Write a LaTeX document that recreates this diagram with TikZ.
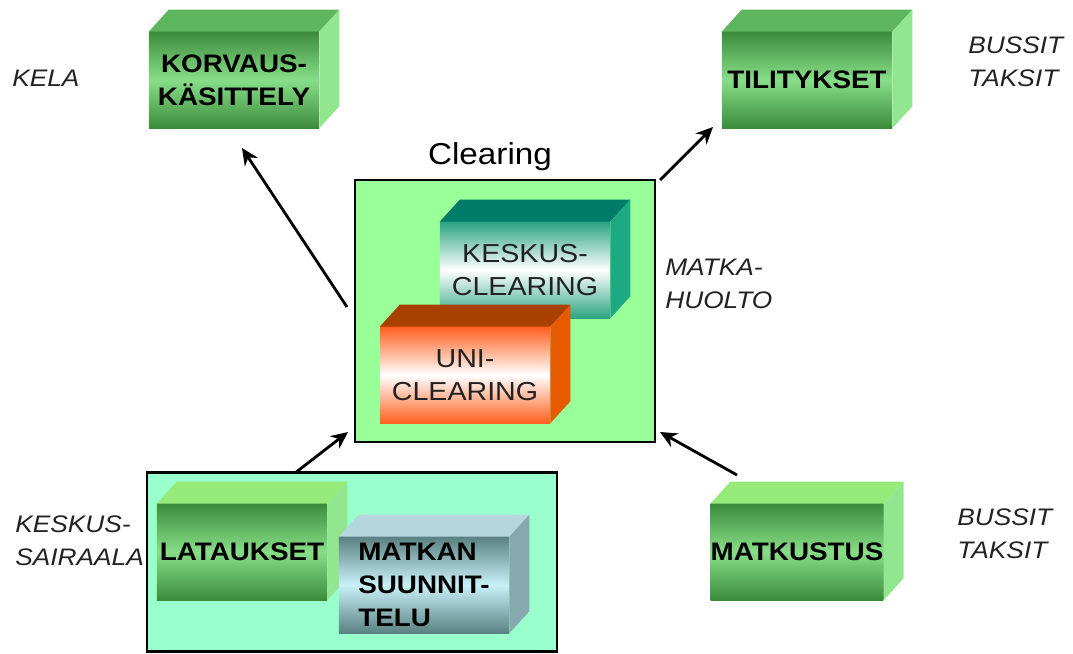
\documentclass[tikz,border=0pt]{standalone}
\usepackage{fontspec}
\setmainfont{Liberation Sans}[FakeStretch=1.1]
\usetikzlibrary{arrows.meta}

\definecolor{clearbg}{HTML}{99FF99}
\definecolor{lowbg}{HTML}{99FFCC}
\definecolor{gdark}{HTML}{3C8C3C}
\definecolor{glight}{HTML}{88DE88}
\definecolor{gtop}{HTML}{5DB65D}
\definecolor{gtoplow}{HTML}{96EA7A}
\definecolor{gside}{HTML}{92E690}
\definecolor{tdark}{HTML}{2CA482}
\definecolor{ttop}{HTML}{007C68}
\definecolor{tside}{HTML}{1CAA82}
\definecolor{odark}{HTML}{FF6020}
\definecolor{otop}{HTML}{A84000}
\definecolor{oside}{HTML}{E65A00}
\definecolor{sdark}{HTML}{5A8282}
\definecolor{slight}{HTML}{C8F0F8}
\definecolor{stop}{HTML}{B6D6DE}
\definecolor{sside}{HTML}{86A8AE}
\definecolor{labelgray}{HTML}{222222}

\tikzset{
    cube/.style={minimum width=4.25cm, minimum height=2.4cm, inner sep=0pt, align=center,
        font=\fontsize{18}{23.6}\selectfont\bfseries},
    greencube/.style={cube, top color=gdark, bottom color=gdark, middle color=glight},
    tealcube/.style={cube, top color=tdark, bottom color=tdark, middle color=white,
        text=labelgray, font=\fontsize{18.5}{24}\selectfont},
    orangecube/.style={cube, top color=odark, bottom color=odark, middle color=white,
        text=labelgray, font=\fontsize{18.5}{23.4}\selectfont},
    slatecube/.style={cube, top color=sdark, bottom color=sdark, middle color=slight, align=left},
    side label/.style={anchor=west, inner sep=0pt, align=left, text=labelgray,
        font=\fontsize{17}{23.4}\selectfont\itshape},
    container/.style={draw=black, line width=2pt, inner sep=0pt},
    flow/.style={-{Stealth[length=12pt,width=11pt]}, line width=2pt},
}

% top face and right face of a box drawn behind a front node
\newcommand{\cubeback}[3]{%
    \fill[#2] (#1.north west) -- ++(20,-22) -- ([shift={(20,-22)}]#1.north east) -- (#1.north east) -- cycle;
    \fill[#3] (#1.north east) -- ++(20,-22) -- ([shift={(20,-22)}]#1.south east) -- (#1.south east) -- cycle;
}

\begin{document}
\begin{tikzpicture}[x=0.025cm, y=-0.025cm]
\useasboundingbox (0,0) rectangle (1073,653);

        % top row
        \node[greencube] (korvaus) at (234,80) {KORVAUS-\\KÄSITTELY};
        \cubeback{korvaus}{gtop}{gside}
        \node[greencube] (tilitykset) at (807,80) {TILITYKSET};
        \cubeback{tilitykset}{gtop}{gside}

        \node[side label] (kela) at (12,78) {KELA};
        \node[side label] (bussit1) at (968,62) {BUSSIT\\TAKSIT};


        % clearing
        \node[container, fill=clearbg, minimum width=7.5cm, minimum height=6.55cm] (clearing) at (505,311) {};
        \node[font=\fontsize{21.5}{26}\selectfont, inner sep=0pt] (clearlabel) at (490,157) {Clearing};

        \node[tealcube] (keskusclr) at (525,270) {KESKUS-\\CLEARING};
        \cubeback{keskusclr}{ttop}{tside}
        \node[orangecube] (uniclr) at (465,375) {UNI-\\CLEARING};
        \cubeback{uniclr}{otop}{oside}

        \node[side label] (matkahuolto) at (665,284) {MATKA-\\HUOLTO};


        % bottom row
        \node[container, fill=lowbg, minimum width=10.25cm, minimum height=4.475cm] (lower) at (352,562) {};

        \node[greencube] (lataukset) at (242,552) {LATAUKSET};
        \cubeback{lataukset}{gtoplow}{gside}
        \node[slatecube] (suunnittelu) at (424,585) {MATKAN\\SUUNNIT-\\TELU};
        \cubeback{suunnittelu}{stop}{sside}

        \node[greencube] (matkustus) at (797,552) {MATKUSTUS};
        \cubeback{matkustus}{gtoplow}{gside}

        \node[side label] (sairaala) at (15,541) {KESKUS-\\SAIRAALA};
        \node[side label] (bussit2) at (957,534) {BUSSIT\\TAKSIT};


        % arrows
        \coordinate (upleft) at (347,307);
        \coordinate (kelaend) at (242,148);
        \coordinate (upright) at (660,180);
        \coordinate (tiliend) at (713,127);
        \coordinate (lowstart) at (295,473);
        \coordinate (lowend) at (348,432);
        \coordinate (busstart) at (737,475);
        \coordinate (busend) at (660,432);

        \draw[flow] (upleft) -- (kelaend);
        \draw[flow] (upright) -- (tiliend);
        \draw[flow] (lowstart) -- (lowend);
        \draw[flow] (busstart) -- (busend);
\end{tikzpicture}
\end{document}
